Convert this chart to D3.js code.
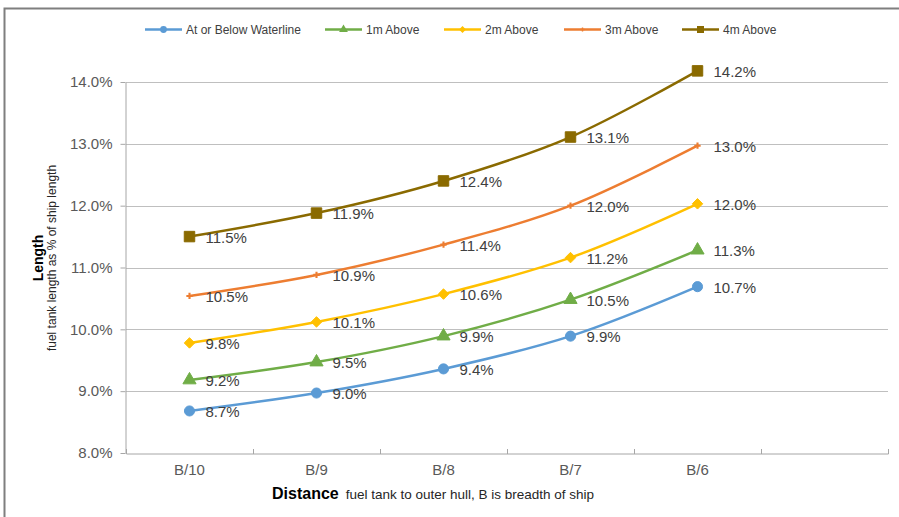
<!DOCTYPE html>
<html>
<head>
<meta charset="utf-8">
<script src="https://cdn.jsdelivr.net/npm/d3@7"></script>
<style>
  html, body { margin: 0; padding: 0; background: #fff; }
  svg { display: block; font-family: "Liberation Sans", Arial, sans-serif; }
</style>
</head>
<body>
<svg id="chart" width="899" height="517"></svg>
<script>
// Distance of fuel tank from outer hull (fraction of ship breadth)
const categories = ["B/10", "B/9", "B/8", "B/7", "B/6"];

// Fuel tank length as % of ship length, per tank height above waterline
const seriesNames = ["At or Below Waterline", "1m Above", "2m Above", "3m Above", "4m Above"];
const atOrBelow = [8.68, 8.97, 9.36, 9.89, 10.69];
const above1m   = [9.18, 9.47, 9.89, 10.48, 11.28];
const above2m   = [9.78, 10.12, 10.57, 11.16, 12.03];
const above3m   = [10.54, 10.88, 11.37, 12.0, 12.97];
const above4m   = [11.5, 11.88, 12.4, 13.11, 14.18];

const yTicks = [8, 9, 10, 11, 12, 13, 14];

const colors  = ["#5B9BD5", "#70AD47", "#FFC000", "#ED7D31", "#8A6A00"];
const symbols = [d3.symbolCircle, d3.symbolTriangle, d3.symbolDiamond2, d3.symbolCross, d3.symbolSquare];
const symSize = [80, 75, 70, 22, 110];

const series = [atOrBelow, above1m, above2m, above3m, above4m].map((vals, i) => ({
  name: seriesNames[i], color: colors[i], symbol: symbols[i], size: symSize[i],
  points: vals.map((v, j) => ({ cat: categories[j], value: v }))
}));

const svg = d3.select("#chart");

// Outer chart frame (top and left edges)
svg.append("path")
  .attr("d", "M4.5,517 V8.5 H899")
  .attr("fill", "none").attr("stroke", "#7F7F7F").attr("stroke-width", 2);

// Scales: one extra empty slot at the right end of the category axis
const x = d3.scaleBand().domain(categories.concat([" "])).range([126, 888]).padding(0);
const y = d3.scaleLinear().domain([8, 14]).range([453, 82]);
const cx = c => x(c) + x.bandwidth() / 2;

// Horizontal gridlines
svg.append("g").selectAll("line")
  .data(yTicks.filter(t => t > 8))
  .join("line")
  .attr("x1", 126).attr("x2", 888)
  .attr("y1", d => Math.round(y(d)) + 0.5).attr("y2", d => Math.round(y(d)) + 0.5)
  .attr("stroke", "#BFBFBF").attr("stroke-width", 1);

// Y axis
const yAxis = svg.append("g")
  .attr("transform", "translate(125.5,0)")
  .call(d3.axisLeft(y).tickValues(yTicks).tickFormat(d => d3.format(".1f")(d) + "%").tickSize(5).tickSizeOuter(0));
yAxis.select(".domain").attr("stroke", "#A6A6A6");
yAxis.selectAll(".tick line").attr("stroke", "#A6A6A6");
yAxis.selectAll(".tick text").attr("font-size", 15).attr("fill", "#595959").attr("x", -13)
  .attr("font-family", "Liberation Sans, Arial, sans-serif");

// X axis
const xAxis = svg.append("g")
  .attr("transform", "translate(0,453.5)")
  .call(d3.axisBottom(x).tickSize(0).tickSizeOuter(0));
xAxis.select(".domain").attr("stroke", "#A6A6A6");
xAxis.selectAll(".tick text").attr("font-size", 15).attr("fill", "#595959").attr("dy", "1.2em")
  .attr("font-family", "Liberation Sans, Arial, sans-serif");
// Category boundary ticks
svg.append("g").selectAll("line")
  .data(d3.range(x.domain().length + 1))
  .join("line")
  .attr("x1", i => Math.round(126 + i * x.bandwidth()) + 0.5)
  .attr("x2", i => Math.round(126 + i * x.bandwidth()) + 0.5)
  .attr("y1", 449).attr("y2", 454)
  .attr("stroke", "#A6A6A6");

// Axis titles
const yTitle = svg.append("g").attr("transform", "translate(0,258) rotate(-90)");
yTitle.append("text").attr("x", 0).attr("y", 43).attr("text-anchor", "middle")
  .attr("font-size", 14).attr("font-weight", "bold").attr("fill", "#000").text("Length");
yTitle.append("text").attr("x", 0).attr("y", 56).attr("text-anchor", "middle")
  .attr("font-size", 12).attr("fill", "#262626").text("fuel tank length as % of ship length");

const xTitle = svg.append("text").attr("x", 272).attr("y", 499);
xTitle.append("tspan").attr("font-size", 16).attr("font-weight", "bold").attr("fill", "#000").text("Distance");
xTitle.append("tspan").attr("font-size", 13.5).attr("fill", "#262626").attr("dx", 7)
  .text("fuel tank to outer hull, B is breadth of ship");

// Lines, markers and value labels
const line = d3.line()
  .x(d => cx(d.cat)).y(d => y(d.value))
  .curve(d3.curveCatmullRom.alpha(0.5));

const g = svg.append("g").selectAll("g").data(series).join("g");

g.append("path")
  .attr("d", s => line(s.points))
  .attr("fill", "none").attr("stroke", s => s.color).attr("stroke-width", 2.5)
  .attr("stroke-linejoin", "round").attr("stroke-linecap", "round");

g.each(function (s) {
  const sel = d3.select(this);
  sel.selectAll("path.mk").data(s.points).join("path")
    .attr("class", "mk")
    .attr("transform", d => `translate(${cx(d.cat)},${y(d.value)})`)
    .attr("d", d3.symbol().type(s.symbol).size(s.size))
    .attr("fill", s.color).attr("stroke", s.color).attr("stroke-width", s.symbol === d3.symbolCross ? 0 : 1);
  sel.selectAll("text.lbl").data(s.points).join("text")
    .attr("class", "lbl")
    .attr("x", d => cx(d.cat) + 16).attr("y", d => y(d.value) + 1)
    .attr("dy", "0.35em")
    .attr("font-size", 15).attr("fill", "#404040")
    .text(d => d3.format(".1f")(d.value) + "%");
});

// Legend
const legendX = [145, 325, 444, 564, 682];
const legend = svg.append("g").selectAll("g").data(series).join("g")
  .attr("transform", (s, i) => `translate(${legendX[i]},29.5)`);
legend.append("line").attr("x1", 0).attr("x2", 37).attr("y1", 0).attr("y2", 0)
  .attr("stroke", s => s.color).attr("stroke-width", 2.5);
legend.append("path")
  .attr("transform", "translate(18.5,0)")
  .attr("d", s => d3.symbol().type(s.symbol).size(s.size * 0.45)())
  .attr("fill", s => s.color);
legend.append("text").attr("x", 41).attr("y", 0).attr("dy", "0.35em")
  .attr("font-size", 12).attr("fill", "#404040")
  .text(s => s.name);
</script>
</body>
</html>
